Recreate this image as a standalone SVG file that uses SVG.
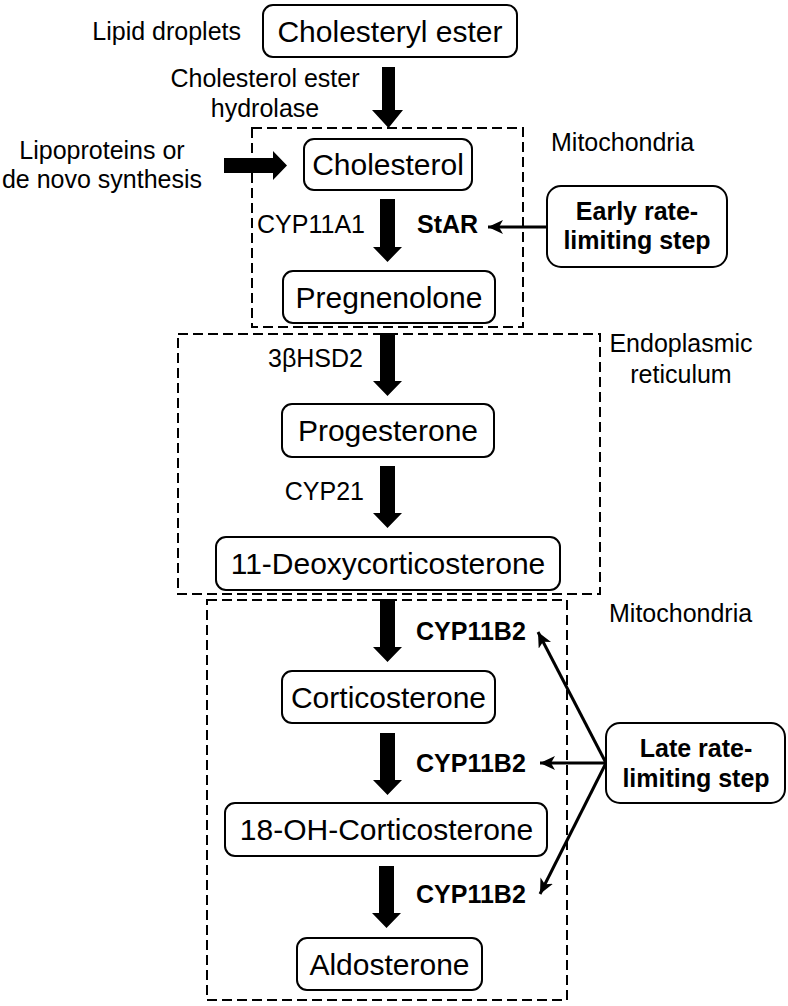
<svg xmlns="http://www.w3.org/2000/svg" width="788" height="1006" viewBox="0 0 788 1006">
<style>
text{font-family:"Liberation Sans",Arial,sans-serif;fill:#000}
.n{font-size:30px;text-anchor:middle}
.l{font-size:25px}
.b{font-size:25px;font-weight:bold}
.box{fill:#fff;stroke:#000;stroke-width:2}
.cmp{fill:none;stroke:#000;stroke-width:2;stroke-dasharray:10,5}
.fat{fill:#000;stroke:none}
.thin{fill:none;stroke:#000;stroke-width:3;marker-end:url(#ah)}
</style>
<defs>
<marker id="ah" markerUnits="userSpaceOnUse" markerWidth="16" markerHeight="14" refX="15" refY="7" orient="auto">
<path d="M0,0 L15,7 L0,14 L4,7 z" fill="#000"/>
</marker>
</defs>
<rect width="788" height="1006" fill="#fff"/>
<g id="compartments">
<rect class="cmp" x="252" y="128" width="271" height="199"/>
<rect class="cmp" x="178" y="334" width="422" height="260"/>
<rect class="cmp" x="207" y="600" width="360" height="400"/>
</g>
<g id="connectors">
<polygon class="fat" points="382,67 395,67 395,110 403,110 388.5,128 372,110 382,110"/>
<polygon class="fat" points="224,158 273,158 273,151 287,165.5 273,180 273,173 224,173"/>
<polygon class="fat" points="380,199 395,199 395,247 402,247 387.5,262 373,247 380,247"/>
<polygon class="fat" points="380,333 395,333 395,381 402,381 387.5,396 373,381 380,381"/>
<polygon class="fat" points="380,466 395,466 395,513 402,513 387.5,528 373,513 380,513"/>
<polygon class="fat" points="380,599 395,599 395,647 402,647 387.5,662 373,647 380,647"/>
<polygon class="fat" points="380,733 395,733 395,780 402,780 387.5,795 373,780 380,780"/>
<polygon class="fat" points="379,866 394,866 394,913 401,913 386.5,928 372,913 379,913"/>
<line class="thin" x1="547" y1="227" x2="488" y2="227"/>
<line class="thin" x1="606" y1="763" x2="538" y2="632"/>
<line class="thin" x1="606" y1="763" x2="540" y2="763"/>
<line class="thin" x1="606" y1="763" x2="540" y2="894"/>
</g>
<g id="n-cholesteryl-ester"><rect class="box" x="263" y="5" width="254" height="52" rx="10"/><text class="n" x="390" y="42">Cholesteryl ester</text></g>
<g id="n-cholesterol"><rect class="box" x="304" y="139" width="168" height="51" rx="10"/><text class="n" x="388" y="175">Cholesterol</text></g>
<g id="n-pregnenolone"><rect class="box" x="283" y="271" width="212" height="52" rx="10"/><text class="n" x="389" y="308">Pregnenolone</text></g>
<g id="n-progesterone"><rect class="box" x="282" y="404" width="212" height="53" rx="10"/><text class="n" x="388" y="441">Progesterone</text></g>
<g id="n-doc"><rect class="box" x="216" y="537" width="344" height="53" rx="10"/><text class="n" x="388" y="574">11-Deoxycorticosterone</text></g>
<g id="n-corticosterone"><rect class="box" x="282" y="671" width="213" height="52" rx="10"/><text class="n" x="388.5" y="708">Corticosterone</text></g>
<g id="n-18oh"><rect class="box" x="225" y="803" width="322" height="53" rx="10"/><text class="n" x="386.5" y="840">18-OH-Corticosterone</text></g>
<g id="n-aldosterone"><rect class="box" x="297" y="938" width="185" height="52" rx="10"/><text class="n" x="389.5" y="975">Aldosterone</text></g>
<g id="n-early"><rect class="box" x="547" y="186" width="180" height="81" rx="14"/><text class="b" x="637" y="220" text-anchor="middle">Early rate-</text><text class="b" x="637" y="249" text-anchor="middle">limiting step</text></g>
<g id="n-late"><rect class="box" x="606" y="723" width="179" height="80" rx="14"/><text class="b" x="696" y="757" text-anchor="middle">Late rate-</text><text class="b" x="696" y="787" text-anchor="middle">limiting step</text></g>
<g id="labels">
<text class="l" x="241" y="40" text-anchor="end">Lipid droplets</text>
<text class="l" x="265" y="87" text-anchor="middle">Cholesterol ester</text>
<text class="l" x="265" y="117" text-anchor="middle">hydrolase</text>
<text class="l" x="102" y="159" text-anchor="middle">Lipoproteins or</text>
<text class="l" x="102" y="188" text-anchor="middle">de novo synthesis</text>
<text class="l" x="551" y="151">Mitochondria</text>
<text class="l" x="365" y="233" text-anchor="end">CYP11A1</text>
<text class="b" x="417" y="233">StAR</text>
<text class="l" x="681" y="352" text-anchor="middle">Endoplasmic</text>
<text class="l" x="681" y="383" text-anchor="middle">reticulum</text>
<text class="l" x="363" y="367" text-anchor="end">3βHSD2</text>
<text class="l" x="364" y="500" text-anchor="end">CYP21</text>
<text class="l" x="609" y="622">Mitochondria</text>
<text class="b" x="416" y="640">CYP11B2</text>
<text class="b" x="416" y="772">CYP11B2</text>
<text class="b" x="416" y="903">CYP11B2</text>
</g>
</svg>
